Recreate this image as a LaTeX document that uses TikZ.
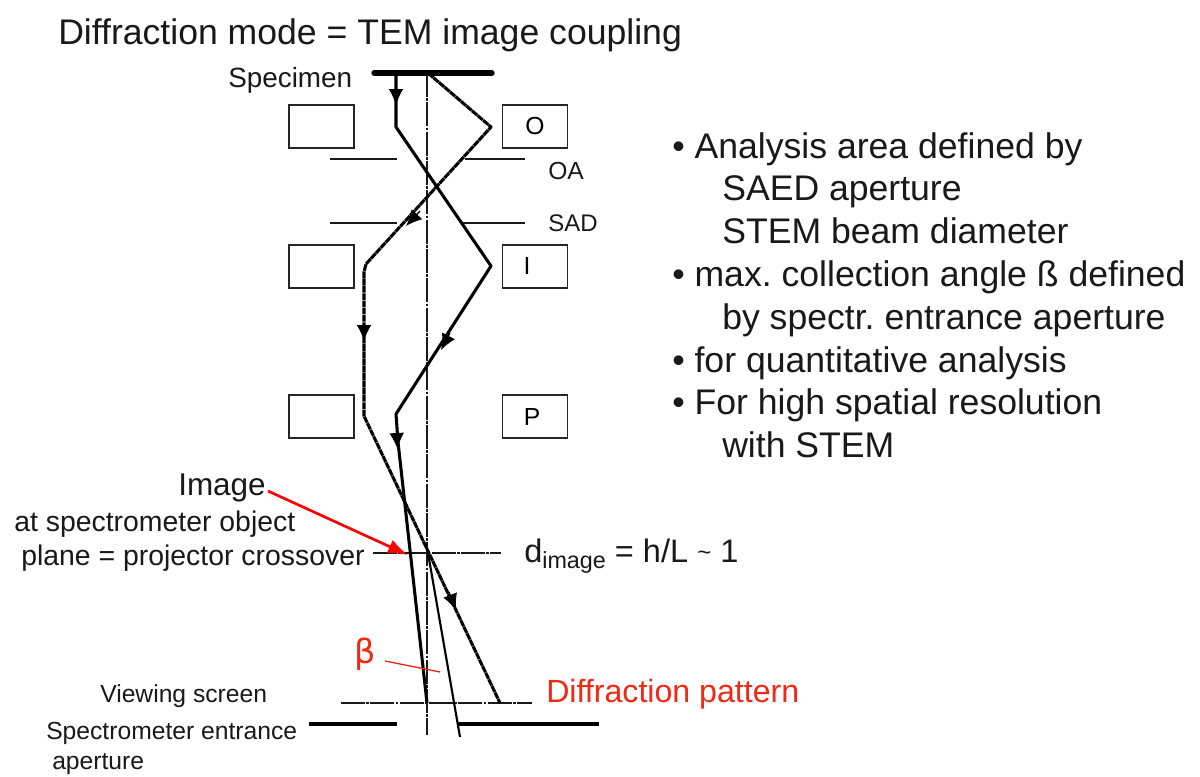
\documentclass[tikz,border=0pt]{standalone}
\usepackage{fontspec}
\setmainfont{Liberation Sans}
\usetikzlibrary{arrows.meta}
\definecolor{redtxt}{RGB}{240,40,20}
\newcommand{\fsz}[1]{\fontsize{#1}{#1}\selectfont}
\frenchspacing
\begin{document}
\begin{tikzpicture}[x=0.75pt,y=-0.75pt,
  txt/.style={inner sep=0pt,anchor=base west,text=black!90},
  big/.style={txt,font=\frenchspacing\fsz{26.7}},
  mid/.style={txt,font=\fsz{21.3}},
  sml/.style={txt,font=\fsz{18.5}},
  lens/.style={draw=black!85,line width=1.2pt,minimum width=49pt,minimum height=32.5pt,inner sep=0pt,font=\fsz{18.5},anchor=center},
  plate/.style={line width=1.9pt,black!90},
  axisline/.style={black!90,line width=1pt,dash pattern=on 18pt off 1pt on 2pt off 1pt},
  rayA/.style={black,line width=2.3pt,line join=round},
  rayB/.style={black,line width=2.3pt,line join=round,dash pattern=on 5pt off 0.45pt},
  tip/.style={-{Latex[length=12pt,width=11pt]},black,line width=1pt,solid},
]
\useasboundingbox (0,0) rectangle (1200,776);
\fill[white] (0,0) rectangle (1200,776);
% coordinates
\coordinate (ax0) at (427,73); \coordinate (ax1) at (427,735);
\coordinate (sl) at (374,73); \coordinate (sr) at (492,73);
\coordinate (a0) at (396,73); \coordinate (a1) at (396,127); \coordinate (a2) at (491,266);
\coordinate (a3) at (396,414); \coordinate (a3b) at (398,442); \coordinate (a4) at (427,703);
\coordinate (b0) at (428,73); \coordinate (b1) at (491,127); \coordinate (b2) at (366,264); \coordinate (b2b) at (364,272);
\coordinate (b3) at (364,416); \coordinate (b4) at (500,703);
\coordinate (c0) at (428,553); \coordinate (c1) at (460,737);
% lenses
\node[lens] (L1) at (321.5,126.5) {};
\node[lens] (O) at (535,126.5) {O};
\node[lens] (L2) at (321.5,266.5) {};
\node[lens] (Ibox) at (535,266.5) {};
\node[lens,minimum width=0pt,minimum height=0pt,draw=none] (I) at (527,266.5) {I};
\node[lens] (L3) at (321.5,416.5) {};
\node[lens] (Pbox) at (535,416.5) {};
\node[lens,minimum width=0pt,minimum height=0pt,draw=none] (P) at (532,417.5) {P};
% apertures
\coordinate (oal) at (330,159); \coordinate (oalr) at (397,159);
\coordinate (oar) at (465,159); \coordinate (oarr) at (525,159);
\coordinate (sal) at (330,223); \coordinate (salr) at (397,223);
\coordinate (sar) at (462,223); \coordinate (sarr) at (525,223);
\draw[plate] (oal)--(oalr); \draw[plate] (oar)--(oarr);
\draw[plate] (sal)--(salr); \draw[plate] (sar)--(sarr);
% axis lines
\draw[axisline] (ax0)--(ax1);
\coordinate (h1l) at (373,553); \coordinate (h1r) at (501,553);
\coordinate (h2l) at (341,703); \coordinate (h2r) at (532,703);
\draw[axisline] (h1l)--(h1r);
\draw[axisline] (h2l)--(h2r);
% spectrometer aperture
\coordinate (spl) at (309,724); \coordinate (splr) at (397,724);
\coordinate (spr) at (458,724); \coordinate (sprr) at (599,724);
\draw[black,line width=2.4pt] (spl)--(splr);
\draw[black,line width=2.4pt] (spr)--(sprr);
% specimen
\draw[black,line width=4pt,line cap=round] (sl)--(sr);
% rays
\draw[rayA] (a0)--(a1)--(a2)--(a3)--(a3b)--(a4);
\draw[rayB] (b0)--(b1)--(b2)--(b2b)--(b3)--(b4);
\draw[black,line width=1.6pt] (c0)--(c1);
% arrowheads
\draw[tip] (396,95)--(396,105);
\draw[tip] (420,211)--(406,226);
\draw[tip] (364,325)--(364,341);
\draw[tip] (450,333)--(441,350);
\draw[tip] (396.5,430)--(397.5,449);
\draw[tip] (449,592)--(456,610);
% red
\node[txt,font=\fsz{23.6}] (im) at (178,495) {Image};
\coordinate (redend) at (408,555);
\draw[-{Latex[length=15pt,width=11pt]},red,line width=2pt] (268,491)--(redend);
\coordinate (bl) at (385,661); \coordinate (br) at (440,672);
\draw[redtxt,line width=1pt] (bl)--(br);
% texts
\node[big] (t0) at (58,44) {Diffraction mode = TEM image coupling};
\node[txt,font=\fsz{20.9}] (t1) at (228,87) {Specimen};
\node[sml] (t2) at (548,179) {OA};
\node[sml,font=\fsz{18}] (t3) at (548,231) {SAD};
\node[mid] (t4) at (14,531) {at spectrometer object};
\node[mid] (t5) at (21,565) {plane = projector crossover};
\node[sml] (t6) at (100,702) {Viewing screen};
\node[sml] (t7) at (46,739) {Spectrometer entrance};
\node[sml] (t8) at (52,769) {aperture};
\node[txt,font=\fsz{24.4}] (t9) at (524,562) {d\raisebox{-5pt}{\fsz{17.5}image} = h/L {\fsz{18}\raisebox{1pt}{\char"007E}} 1};
\node[txt,text=redtxt,font=\fsz{24.1}] (t10) at (546,702) {Diffraction pattern};
\node[txt,text=redtxt,font=\fontspec{DejaVu Sans}\fsz{25}] (t11) at (354,663) {β};
% bullets
\node[big] (r1) at (672,158) {• Analysis area defined by};
\node[big] (r2) at (722,200) {SAED aperture};
\node[big] (r3) at (722,243) {STEM beam diameter};
\node[big] (r4) at (672,286) {• max. collection angle ß defined};
\node[big] (r5) at (722,329) {by spectr. entrance aperture};
\node[big] (r6) at (672,372) {• for quantitative analysis};
\node[big] (r7) at (672,414) {• For high spatial resolution};
\node[big] (r8) at (722,457) {with STEM};
\end{tikzpicture}
\end{document}
